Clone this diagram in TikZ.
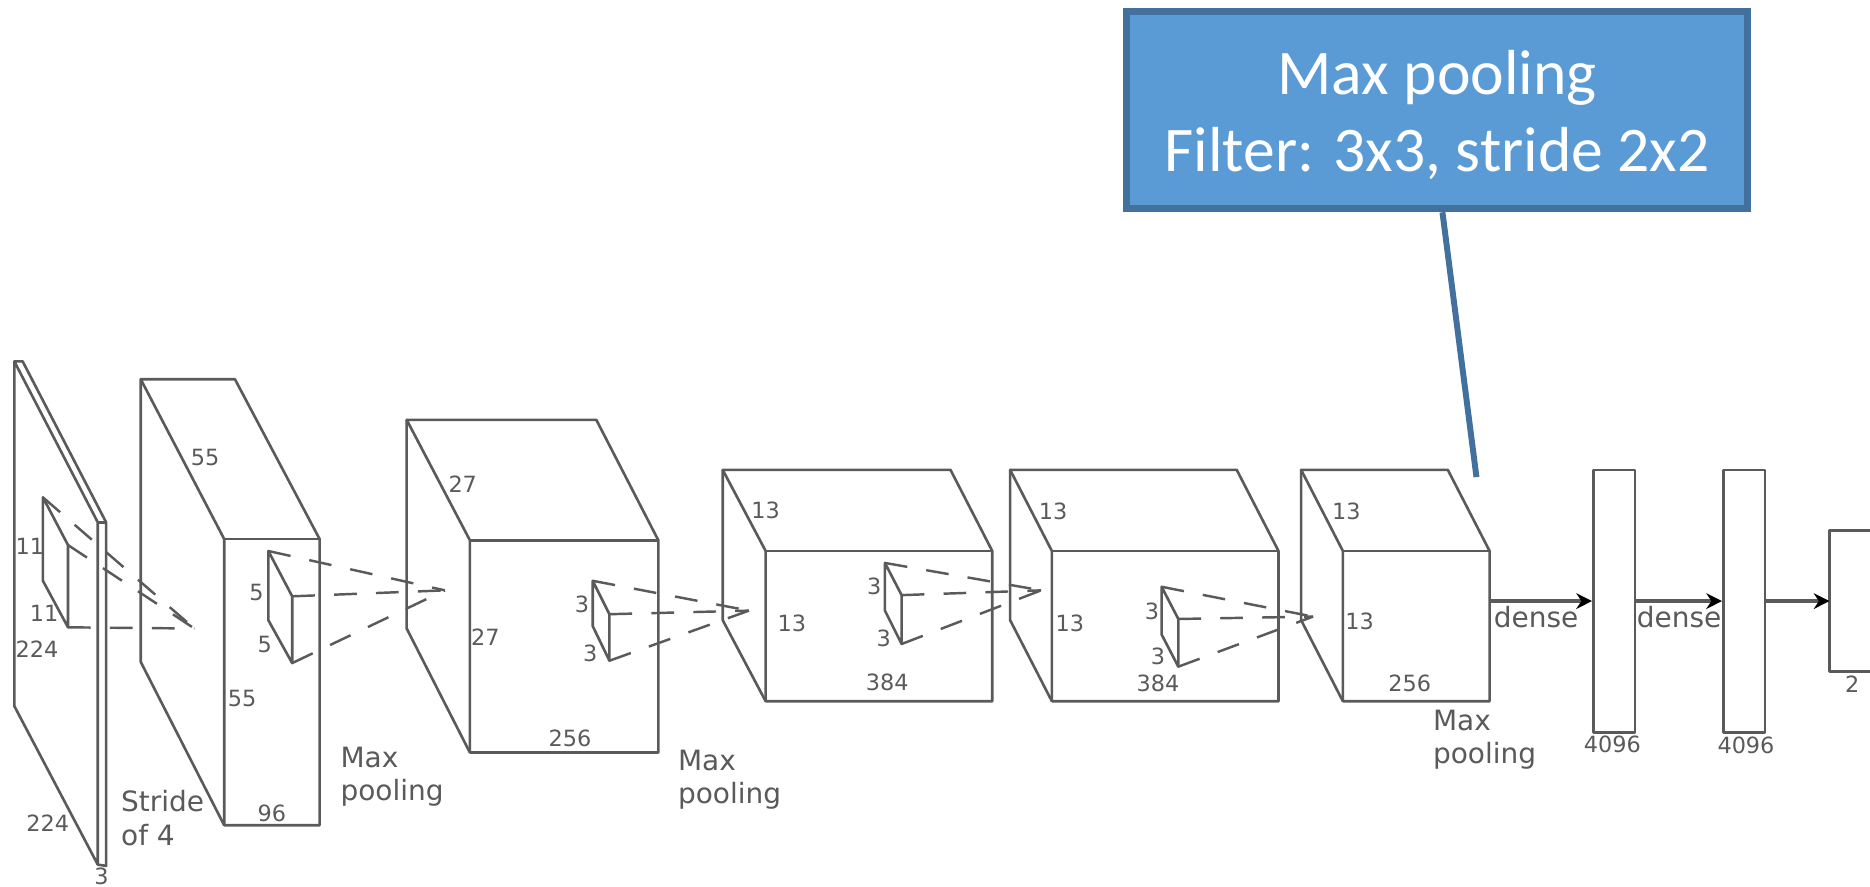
\documentclass[tikz,border=0pt]{standalone}
\usepackage{fontspec}
\usetikzlibrary{arrows.meta}
\setmainfont{DejaVu Sans}
\newfontfamily\calloutfont{Carlito}
\definecolor{linegray}{HTML}{5A5A5A}
\definecolor{calloutfill}{HTML}{5B9BD5}
\definecolor{calloutline}{HTML}{41719C}
\begin{document}
\begin{tikzpicture}[
    x=0.012cm, y=-0.012cm,
    layer/.style={draw=linegray, line width=0.75pt, line join=round},
    kernel/.style={draw=linegray, line width=0.7pt, dash pattern=on 6.5pt off 5.5pt},
    dimlabel/.style={font=\fontsize{6.4}{7}\selectfont, text=linegray, inner sep=0pt},
    oplabel/.style={font=\fontsize{8}{9.5}\selectfont, text=linegray, inner sep=0pt, align=left, anchor=west},
    flow/.style={draw=linegray, line width=1pt, -{Stealth[length=4.5pt,width=4.5pt,black]}}
]
\useasboundingbox (0,0) rectangle (1568,743);

% Input image
\draw[layer] (12,303) -- (19,303) -- (89,438) -- (89,726) -- (82,725) -- (82,438) -- (12,303) -- (12,592) -- (82,725);
\draw[layer] (82,438) -- (89,438);

% Convolution volumes
\draw[layer] (118,318) -- (197,318) -- (268,452) -- (268,692) -- (188,692) -- (188,452) -- cycle;
\draw[layer] (188,452) -- (268,452);
\draw[layer] (118,318) -- (118,555) -- (188,692);

\draw[layer] (341,352) -- (500,352) -- (552,453) -- (552,631) -- (394,631) -- (394,453) -- cycle;
\draw[layer] (394,453) -- (552,453);
\draw[layer] (341,352) -- (341,527) -- (394,631);

\foreach \xa/\xb/\xc/\xd in {606/642/797/832, 847/882/1037/1072, 1091/1126/1214/1249} {
    \draw[layer] (\xa,394) -- (\xc,394) -- (\xd,462) -- (\xd,588) -- (\xb,588) -- (\xb,462) -- cycle;
    \draw[layer] (\xb,462) -- (\xd,462);
    \draw[layer] (\xa,394) -- (\xa,520) -- (\xb,588);
}

% Dense layers
\node[layer, minimum width=0.42cm, minimum height=2.64cm, inner sep=0pt] (denseA) at (1353.5,504) {};
\node[layer, minimum width=0.42cm, minimum height=2.64cm, inner sep=0pt] (denseB) at (1462.5,504) {};
\draw[layer] (1568,445) -- (1534,445) -- (1534,563) -- (1568,563);
\coordinate (outC) at (1249,504);
\coordinate (inD) at (1534,504);

\draw[flow] (outC) -- (denseA.west);
\draw[flow] (denseA.east) -- (denseB.west);
\draw[flow] (denseB.east) -- (inD);

% Kernels: corners and the point they project to
\foreach \n/\xa/\ya/\xb/\yb/\yc/\yd/\xt/\yt in {
    a/36/417/57/457/526/487/163/527,
    b/225/462/245/500/556/520/373/495,
    c/497/487/511/515/554/525/628/512,
    d/742/472/756/499/540/512/873/495,
    e/974/492/988/519/559/532/1101/517} {
    \coordinate (\n tl) at (\xa,\ya);
    \coordinate (\n tr) at (\xb,\yb);
    \coordinate (\n br) at (\xb,\yc);
    \coordinate (\n bl) at (\xa,\yd);
    \coordinate (\n t) at (\xt,\yt);
    \draw[layer] (\n tl) -- (\n tr) -- (\n br) -- (\n bl) -- cycle;
    \foreach \c in {tl,tr,br}
        \draw[kernel] (\n\c) -- (\n t);
}

% Dimension labels
\foreach \x/\y/\t [count=\i] in {
    25/458/11, 37/514/11, 31/544/224, 40/690/224, 85/735/3,
    172/384/55, 215/497/5, 222/540/5, 203/586/55, 228/682/96,
    388/406/27, 407/534/27, 478/619/256, 488/507/3, 495/548/3,
    642/428/13, 664/523/13, 733/492/3, 741/535/3, 744/572/384,
    883/429/13, 897/523/13, 966/513/3, 971/550/3, 971/573/384,
    1129/429/13, 1140/521/13, 1182/573/256,
    1352/624/4096, 1464/625/4096, 1553/574/2}
    \node[dimlabel] (dim\i) at (\x,\y) {\t};

% Operation labels
\node[oplabel] (strideA) at (101,686) {Stride\\of 4};
\node[oplabel] (poolA) at (285,651) {Max\\pooling};
\node[oplabel] (poolB) at (568,654) {Max\\pooling};
\node[oplabel] (poolC) at (1201,620) {Max\\pooling};
\node[oplabel, anchor=center] (denseC) at (1288,517) {dense};
\node[oplabel, anchor=center] (denseD) at (1408,517) {dense};

% Callout
\node[draw=calloutline, fill=calloutfill, line width=2pt,
    minimum width=6.24cm, minimum height=1.98cm, inner sep=0pt] (callout) at (1205,92.5) {};
\node[text=white, inner sep=0pt, align=center,
    font=\calloutfont\fontsize{18.2}{22}\selectfont] (calloutText) at (1205,96.5)
    {Max pooling\\Filter: 3x3, stride 2x2};
\coordinate (calloutEnd) at (1238,400);
\draw[calloutline, line width=1.7pt] (callout.-87) -- (calloutEnd);

\end{tikzpicture}
\end{document}
